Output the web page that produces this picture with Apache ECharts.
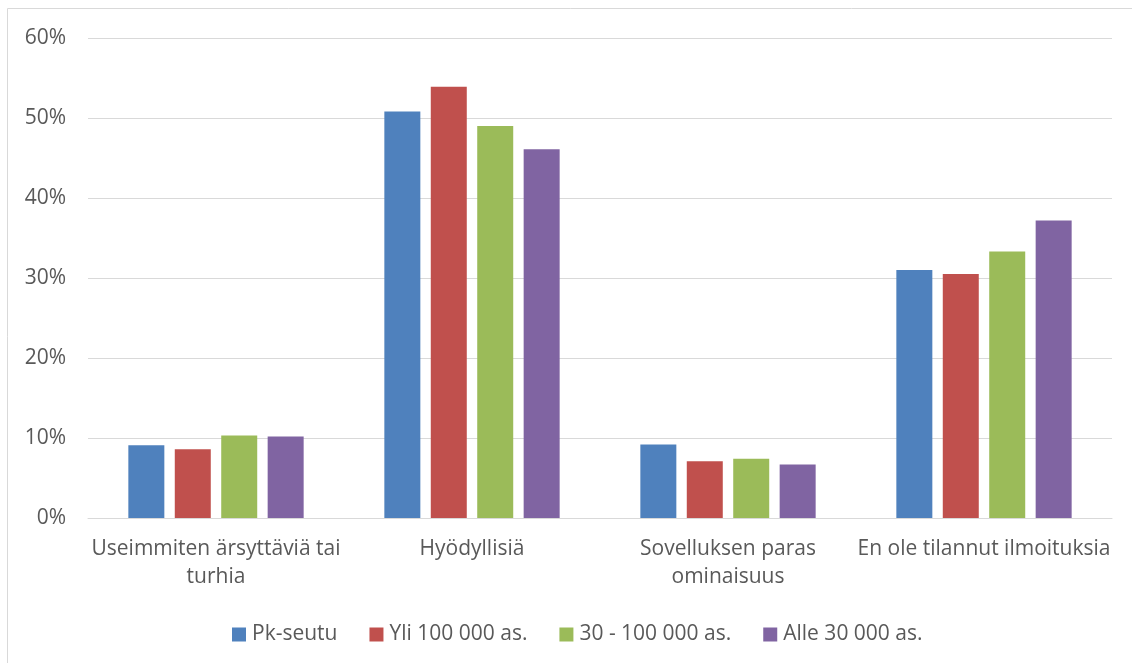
<!DOCTYPE html>
<html>
<head>
<meta charset="utf-8">
<script src="https://cdn.jsdelivr.net/npm/echarts@6/dist/echarts.min.js"></script>
<style>
html,body{margin:0;padding:0;background:#fff;}
#c{width:1132px;height:663px;}
</style>
</head>
<body>
<div id="c"></div>
<script>
const categories = ['Useimmiten ärsyttäviä tai\nturhia', 'Hyödyllisiä', 'Sovelluksen paras\nominaisuus', 'En ole tilannut ilmoituksia'];
const pkSeutu = [9.1, 50.8, 9.2, 31.0];
const yli100000 = [8.6, 53.9, 7.1, 30.5];
const v30to100000 = [10.3, 49.0, 7.4, 33.3];
const alle30000 = [10.2, 46.1, 6.7, 37.2];
const seriesNames = ['Pk-seutu', 'Yli 100 000 as.', '30 - 100 000 as.', 'Alle 30 000 as.'];
const colors = ['#4f81bd', '#c0504d', '#9bbb59', '#8064a2'];
const seriesData = [pkSeutu, yli100000, v30to100000, alle30000];

const FONT = 'Open Sans';
const FS = 21;
const chart = echarts.init(document.getElementById('c'), null, {renderer: 'canvas'});
chart.setOption({
  animation: false,
  textStyle: {fontFamily: FONT},
  graphic: [{
    type: 'rect', silent: true,
    shape: {x: 7.5, y: 8.5, width: 1140, height: 670},
    style: {fill: 'none', stroke: '#d9d9d9', lineWidth: 1}
  }],
  grid: {left: 88, right: 20, top: 38, bottom: 145, containLabel: false},
  legend: {
    top: 619, left: 227,
    itemWidth: 14, itemHeight: 14, itemGap: 32,
    icon: 'rect',
    textStyle: {fontFamily: FONT, fontSize: FS, color: '#595959', padding: [0, 0, 0, 1]},
    data: seriesNames
  },
  xAxis: {
    type: 'category',
    data: categories,
    axisLine: {lineStyle: {color: '#d9d9d9', width: 1}},
    axisTick: {show: false},
    axisLabel: {fontFamily: FONT, fontSize: FS, color: '#595959', margin: 17, lineHeight: 28, interval: 0}
  },
  yAxis: {
    type: 'value', min: 0, max: 60, interval: 10,
    axisLine: {show: false}, axisTick: {show: false},
    splitLine: {lineStyle: {color: '#d9d9d9', width: 1}},
    axisLabel: {fontFamily: FONT, fontSize: FS, color: '#595959', margin: 22, formatter: '{value}%'}
  },
  series: seriesData.map((d, i) => ({
    name: seriesNames[i], type: 'bar', data: d,
    barWidth: 36, barGap: '29%',
    itemStyle: {color: colors[i]}
  }))
});
</script>
</body>
</html>
